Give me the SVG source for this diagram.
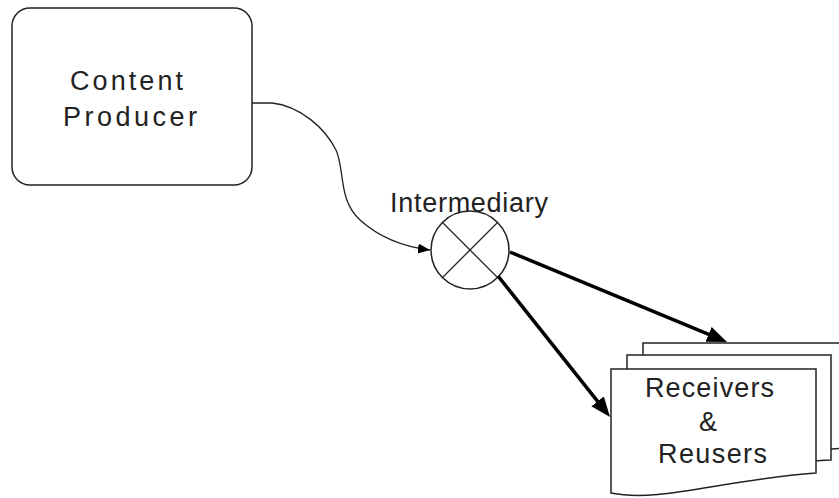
<svg xmlns="http://www.w3.org/2000/svg" width="839" height="498" viewBox="0 0 839 498">
<style>
  .shape { fill: #fff; stroke: #222; stroke-width: 1.5; }
  .lbl { font-family: "Liberation Sans", Arial, sans-serif; font-size: 27px; fill: #222; }
  .thin { fill: none; stroke: #222; stroke-width: 1.3; }
  .thick { fill: none; stroke: #000; stroke-width: 3.5; }
</style>
<defs>
  <marker id="small" markerUnits="userSpaceOnUse" markerWidth="14" markerHeight="12" refX="12" refY="5" orient="auto">
    <path d="M0,0 L12,5 L0,10 z" fill="#000"/>
  </marker>
  <marker id="big" markerUnits="userSpaceOnUse" markerWidth="22" markerHeight="18" refX="10" refY="8" orient="auto">
    <path d="M0,0 L20,8 L0,16 z" fill="#000"/>
  </marker>
</defs>
<rect width="839" height="498" fill="#fff"/>

<g id="content-producer">
  <rect class="shape" x="12" y="8" width="240" height="177" rx="18" ry="18"/>
  <text class="lbl" x="70" y="90" textLength="113" lengthAdjust="spacing">Content</text>
  <text class="lbl" x="63" y="126" textLength="134" lengthAdjust="spacing">Producer</text>
</g>

<g id="intermediary">
  <circle class="shape" cx="470" cy="250" r="39"/>
  <line class="thin" x1="442" y1="222" x2="498" y2="278"/>
  <line class="thin" x1="498" y1="222" x2="442" y2="278"/>
  <text class="lbl" x="390" y="212" textLength="158" lengthAdjust="spacing">Intermediary</text>
</g>

<g id="receivers">
  <path class="shape" d="M643,343 H848 V448 C772,451 692,474 643,465 Z"/>
  <path class="shape" d="M627,355 H831 V460 C756,463 676,486 627,477 Z"/>
  <path class="shape" d="M611,369 H816 V473 C720,480 660,503 611,493 Z"/>
  <text class="lbl" x="645" y="397" textLength="129" lengthAdjust="spacing">Receivers</text>
  <text class="lbl" x="708" y="431" text-anchor="middle">&amp;</text>
  <text class="lbl" x="658" y="463" textLength="109" lengthAdjust="spacing">Reusers</text>
</g>

<g id="connectors">
  <path class="thin" d="M252,103 H272 C300,106 325,128 336,150 C345,170 338,200 360,220 C380,238 405,247 430,250" marker-end="url(#small)"/>
  <path class="thick" d="M510,252 L717.8,338.2" marker-end="url(#big)"/>
  <path class="thick" d="M498,276 L603.8,409.2" marker-end="url(#big)"/>
</g>
</svg>
